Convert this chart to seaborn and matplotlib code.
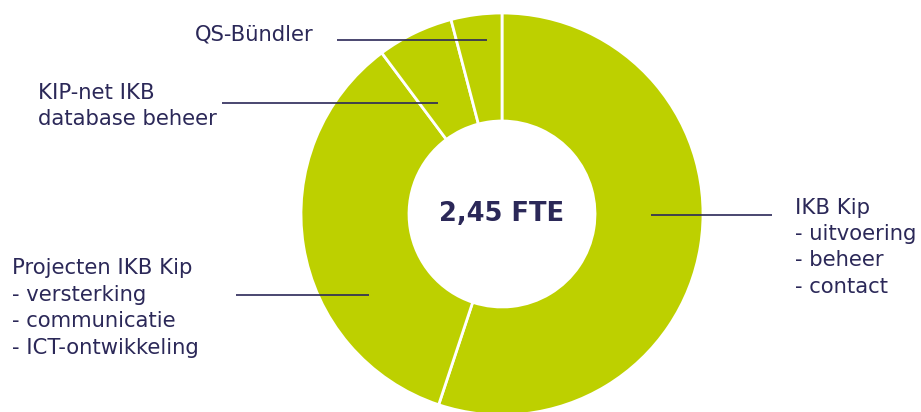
import matplotlib.pyplot as plt
import seaborn as sns

# FTE per onderdeel (totaal 2,45)
segments = ['IKB Kip', 'Projecten IKB Kip', 'KIP-net IKB database beheer', 'QS-Bündler']
fte = [1.35, 0.85, 0.15, 0.10]
total_label = '2,45 FTE'

label_texts = [
    'IKB Kip\n- uitvoering\n- beheer\n- contact',
    'Projecten IKB Kip\n- versterking\n- communicatie\n- ICT-ontwikkeling',
    'KIP-net IKB\ndatabase beheer',
    'QS-Bündler',
]

sns.set_theme(style='white')
plt.rcParams['font.family'] = ['DejaVu Sans']

green = '#BDD000'
navy = '#2B2858'

W, H = 921, 412
fig = plt.figure(figsize=(W / 100, H / 100), dpi=100)
ax = fig.add_axes([0, 0, 1, 1])
ax.set_xlim(0, W)
ax.set_ylim(0, H)
ax.set_aspect('equal')
ax.axis('off')

cx, cy, r_out, r_in = 502, H - 214, 201, 93
ax.pie(fte, colors=[green] * len(fte), startangle=90, counterclock=False,
       center=(cx, cy), radius=r_out,
       wedgeprops=dict(width=r_out - r_in, edgecolor='white', linewidth=2))
ax.set_xlim(0, W)
ax.set_ylim(0, H)

ax.text(cx, cy, total_label, ha='center', va='center', fontsize=18.5,
        fontweight='bold', color=navy)

# leader lines (image pixel coords)
lines = [((651, 772), 215), ((236, 369), 295), ((222, 438), 103), ((337, 487), 40)]
for (x0, x1), y in lines:
    ax.plot([x0, x1], [H - y, H - y], color=navy, lw=1.2, solid_capstyle='butt')

fs = 15.2
ls = 1.4
ax.text(795, H - 197.5, label_texts[0], ha='left', va='top', fontsize=fs,
        color=navy, linespacing=ls)
ax.text(12, H - 258.5, label_texts[1], ha='left', va='top', fontsize=fs,
        color=navy, linespacing=ls)
ax.text(38, H - 82.5, label_texts[2], ha='left', va='top', fontsize=fs,
        color=navy, linespacing=ls)
ax.text(314, H - 34, label_texts[3], ha='right', va='center', fontsize=fs,
        color=navy)

fig.savefig('out.png', dpi=100, facecolor='white')
